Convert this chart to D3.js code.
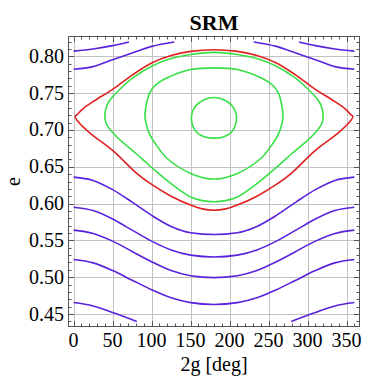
<!DOCTYPE html>
<html>
<head>
  <meta charset="utf-8">
  <script src="https://d3js.org/d3.v7.min.js"></script>
  <style>
    body { margin: 0; background: #fff; }
    text { font-family: "Liberation Serif", "DejaVu Serif", serif; fill: #000; }
  </style>
</head>
<body>
  <svg id="chart"></svg>
  <script>
    var width = 373, height = 386;
    var margin = { left: 68, right: 13, top: 36, bottom: 59 };

    // tick labels
    var xTicks = [0, 50, 100, 150, 200, 250, 300, 350];
    var yTicks = [0.45, 0.50, 0.55, 0.60, 0.65, 0.70, 0.75, 0.80];

    // circulating curves (open), [2g, e]
    var purpleTop1 = [[0, 0.807], [25, 0.810], [50, 0.8145], [71, 0.8195]];
    var purpleTop1R = [[289, 0.8195], [310, 0.8145], [335, 0.810], [360, 0.807]];
    var purpleTop2 = [[0, 0.7825], [25, 0.786], [50, 0.7955], [75, 0.8045], [100, 0.8135], [129, 0.8195]];
    var purpleTop2R = [[231, 0.8195], [260, 0.8135], [285, 0.8045], [310, 0.7955], [335, 0.786], [360, 0.7825]];
    var purpleLow1 = [[0, 0.636], [25, 0.6315], [50, 0.619], [75, 0.602], [100, 0.584], [125, 0.569], [150, 0.5605], [180, 0.558],
      [210, 0.5605], [235, 0.569], [260, 0.584], [285, 0.602], [310, 0.619], [335, 0.6315], [360, 0.636]];
    var purpleLow2 = [[0, 0.595], [25, 0.5905], [50, 0.579], [75, 0.564], [100, 0.549], [125, 0.537], [150, 0.530], [180, 0.5275],
      [210, 0.530], [235, 0.537], [260, 0.549], [285, 0.564], [310, 0.579], [335, 0.5905], [360, 0.595]];
    var purpleLow3 = [[0, 0.564], [25, 0.5595], [50, 0.549], [75, 0.535], [100, 0.521], [125, 0.509], [150, 0.502], [180, 0.4995],
      [210, 0.502], [235, 0.509], [260, 0.521], [285, 0.535], [310, 0.549], [335, 0.5595], [360, 0.564]];
    var purpleLow4 = [[0, 0.524], [25, 0.5195], [50, 0.509], [75, 0.496], [100, 0.483], [125, 0.472], [150, 0.4655], [180, 0.463],
      [210, 0.4655], [235, 0.472], [260, 0.483], [285, 0.496], [310, 0.509], [335, 0.5195], [360, 0.524]];
    var purpleLow5 = [[0, 0.4656], [25, 0.461], [50, 0.452], [81, 0.440]];
    var purpleLow5R = [[279, 0.440], [310, 0.452], [335, 0.461], [360, 0.4656]];

    // separatrix (closed)
    var separatrix = [[2, 0.718], [5, 0.7212], [11.5, 0.7283], [26.5, 0.7395], [50, 0.7552], [75, 0.7745], [100, 0.791],
      [125, 0.801], [150, 0.8067], [180, 0.809], [210, 0.8067], [235, 0.801], [260, 0.791], [285, 0.7745], [310, 0.7552],
      [333.5, 0.7395], [348.5, 0.7283], [355, 0.7212], [358, 0.718], [352.7, 0.7095], [337.8, 0.6948], [310, 0.6723],
      [278, 0.640], [260, 0.626], [235, 0.610], [210, 0.598], [195, 0.5928], [180, 0.591], [165, 0.5928], [150, 0.598],
      [125, 0.610], [100, 0.626], [82, 0.640], [50, 0.6723], [22.2, 0.6948], [7.3, 0.7095]];

    // librating curves (closed)
    var greenOuter = [[40, 0.720], [42, 0.731], [45, 0.738], [50, 0.745], [62, 0.758], [75, 0.770], [100, 0.7866],
      [125, 0.797], [150, 0.8025], [180, 0.8054], [210, 0.8025], [235, 0.797], [260, 0.7866], [285, 0.770], [298, 0.758],
      [310, 0.745], [315, 0.738], [318, 0.731], [320, 0.720], [318, 0.708], [312, 0.699], [300, 0.686], [280, 0.668],
      [260, 0.649], [235, 0.627], [210, 0.609], [195, 0.604], [180, 0.6025], [165, 0.604], [150, 0.609], [125, 0.627],
      [100, 0.649], [80, 0.668], [60, 0.686], [48, 0.699], [42, 0.708]];
    var greenMiddle = [[91.5, 0.719], [93, 0.733], [97, 0.749], [104, 0.760], [120, 0.7708], [150, 0.7821], [180, 0.7843],
      [210, 0.7821], [240, 0.7708], [256, 0.760], [263, 0.749], [267, 0.733], [268.5, 0.719], [266.5, 0.706], [262, 0.693],
      [255, 0.681], [240, 0.6612], [210, 0.641], [180, 0.6333], [150, 0.641], [120, 0.6612], [105, 0.681], [98, 0.693],
      [93.5, 0.706]];
    var greenInner = [[151, 0.7165], [153, 0.7265], [158, 0.7344], [168, 0.7415], [180, 0.744], [192, 0.7415], [202, 0.7344],
      [207, 0.7265], [209, 0.7165], [207, 0.705], [202, 0.6965], [192, 0.6905], [180, 0.6889], [168, 0.6905], [158, 0.6965],
      [153, 0.705]];

    var openCurves = [purpleTop1, purpleTop1R, purpleTop2, purpleTop2R, purpleLow1, purpleLow2, purpleLow3, purpleLow4, purpleLow5, purpleLow5R];
    var greenCurves = [greenOuter, greenMiddle, greenInner];

    var purple = "#5a22dc", red = "#e01f1f", green = "#38e046";

    var svg = d3.select("#chart").attr("width", width).attr("height", height);

    // 2% padding like the original plot range
    var x = d3.scaleLinear().domain([-7.2, 367.2]).range([margin.left, width - margin.right]);
    var y = d3.scaleLinear().domain([0.4324, 0.8276]).range([height - margin.bottom, margin.top]);

    var x0 = margin.left, x1 = width - margin.right, y0 = margin.top, y1 = height - margin.bottom;

    // grid
    var grid = svg.append("g").attr("stroke", "#c2c2c2").attr("stroke-width", 1);
    grid.selectAll(".gx").data(xTicks).enter().append("line")
      .attr("x1", function(d) { return Math.round(x(d)) + 0.5; })
      .attr("x2", function(d) { return Math.round(x(d)) + 0.5; })
      .attr("y1", y0).attr("y2", y1);
    grid.selectAll(".gy").data(yTicks).enter().append("line")
      .attr("y1", function(d) { return Math.round(y(d)) + 0.5; })
      .attr("y2", function(d) { return Math.round(y(d)) + 0.5; })
      .attr("x1", x0).attr("x2", x1);

    // curves
    var openLine = d3.line().x(function(d) { return x(d[0]); }).y(function(d) { return y(d[1]); })
      .curve(d3.curveMonotoneX);
    var closedLine = d3.line().x(function(d) { return x(d[0]); }).y(function(d) { return y(d[1]); })
      .curve(d3.curveCatmullRomClosed.alpha(0.5));
    var plot = svg.append("g").attr("fill", "none").attr("stroke-width", 1.6).attr("stroke-linejoin", "round");

    plot.selectAll(".open").data(openCurves).enter().append("path")
      .attr("d", openLine)
      .attr("stroke", purple);

    plot.selectAll(".green").data(greenCurves).enter().append("path")
      .attr("d", closedLine)
      .attr("stroke", green);

    plot.append("path").datum(separatrix)
      .attr("d", closedLine)
      .attr("stroke", red);

    // frame and ticks (inward, all four sides)
    var frame = svg.append("g").attr("stroke", "#555").attr("stroke-width", 1).attr("fill", "none");
    frame.append("rect").attr("x", x0 + 0.5).attr("y", y0 + 0.5).attr("width", x1 - x0 - 1).attr("height", y1 - y0 - 1);

    var xMinor = d3.range(0, 361, 10);
    var yMinor = d3.range(0.44, 0.8251, 0.01);
    function xTick(d, len) {
      var px = Math.round(x(d)) + 0.5;
      frame.append("line").attr("x1", px).attr("x2", px).attr("y1", y1).attr("y2", y1 - len);
      frame.append("line").attr("x1", px).attr("x2", px).attr("y1", y0).attr("y2", y0 + len);
    }
    function yTick(d, len) {
      var py = Math.round(y(d)) + 0.5;
      frame.append("line").attr("y1", py).attr("y2", py).attr("x1", x0).attr("x2", x0 + len);
      frame.append("line").attr("y1", py).attr("y2", py).attr("x1", x1).attr("x2", x1 - len);
    }
    xMinor.forEach(function(d) { xTick(d, d % 50 === 0 ? 6 : 3.5); });
    yMinor.forEach(function(d) {
      var isMajor = Math.abs(Math.round(d * 20) - d * 20) < 1e-6;
      yTick(d, isMajor ? 6 : 3.5);
    });

    // tick labels
    svg.selectAll(".xl").data(xTicks).enter().append("text")
      .attr("x", function(d) { return x(d); })
      .attr("y", y1 + 20)
      .attr("text-anchor", "middle")
      .style("font-size", "20px")
      .text(function(d) { return d; });
    svg.selectAll(".yl").data(yTicks).enter().append("text")
      .attr("x", x0 - 4)
      .attr("y", function(d) { return y(d) + 6.5; })
      .attr("text-anchor", "end")
      .style("font-size", "20px")
      .text(function(d) { return d.toFixed(2); });

    // titles
    svg.append("text").attr("x", (x0 + x1) / 2).attr("y", 30)
      .attr("text-anchor", "middle").style("font-size", "22px").style("font-weight", "bold")
      .text("SRM");
    svg.append("text").attr("x", (x0 + x1) / 2).attr("y", 371)
      .attr("text-anchor", "middle").style("font-size", "20px")
      .text("2g [deg]");
    svg.append("text")
      .attr("transform", "translate(20," + ((y0 + y1) / 2) + ") rotate(-90)")
      .attr("text-anchor", "middle").style("font-size", "20px")
      .text("e");
  </script>
</body>
</html>
